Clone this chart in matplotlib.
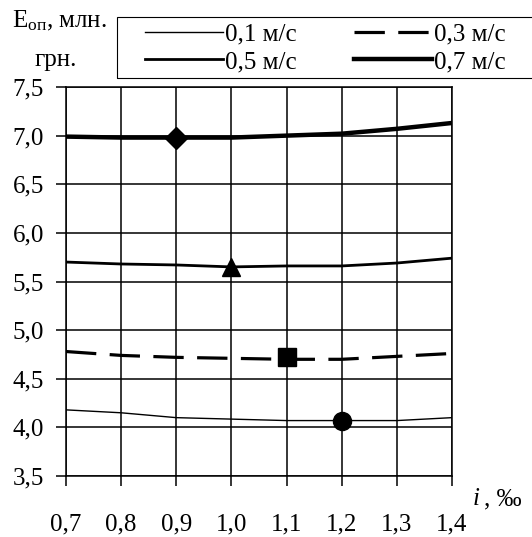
import matplotlib
matplotlib.use('Agg')
import matplotlib.pyplot as plt
from matplotlib.patches import Rectangle

plt.rcParams['font.family'] = ['Liberation Serif', 'DejaVu Serif']
plt.rcParams['mathtext.fontset'] = 'custom'
plt.rcParams['mathtext.rm'] = 'Liberation Serif'
plt.rcParams['mathtext.it'] = 'Liberation Serif:italic'

# ухил, ‰
slope = [0.7, 0.8, 0.9, 1.0, 1.1, 1.2, 1.3, 1.4]
slope_labels = ['0,7', '0,8', '0,9', '1,0', '1,1', '1,2', '1,3', '1,4']

# експлуатаційні витрати, млн. грн.
e_01 = [4.18, 4.15, 4.10, 4.085, 4.07, 4.07, 4.07, 4.10]
e_03 = [4.78, 4.74, 4.72, 4.71, 4.70, 4.70, 4.73, 4.76]
e_05 = [5.70, 5.68, 5.67, 5.65, 5.66, 5.66, 5.69, 5.74]
e_07 = [6.99, 6.98, 6.98, 6.98, 7.00, 7.02, 7.07, 7.13]

y_ticks = [3.5, 4.0, 4.5, 5.0, 5.5, 6.0, 6.5, 7.0, 7.5]
y_labels = ['3,5', '4,0', '4,5', '5,0', '5,5', '6,0', '6,5', '7,0', '7,5']

fig = plt.figure(figsize=(5.32, 5.37), dpi=100)
ax = fig.add_axes([66 / 532, 61 / 537, 386 / 532, 389 / 537])

h01, = ax.plot(slope, e_01, color='black', lw=1.0)
h03, = ax.plot(slope, e_03, color='black', lw=2.3, dashes=(9.5, 4.2))
h05, = ax.plot(slope, e_05, color='black', lw=2.0)
h07, = ax.plot(slope, e_07, color='black', lw=3.2)

# маркери
ax.plot(slope[5], e_01[5], 'o', color='black', ms=13, clip_on=False)
ax.plot(slope[4], e_03[4] + 0.02, 's', color='black', ms=13, clip_on=False)
ax.plot(slope[3], e_05[3], '^', color='black', ms=13, clip_on=False)
ax.plot(slope[2], e_07[2], 'D', color='black', ms=11, clip_on=False)

ax.set_xlim(0.7, 1.4)
ax.set_ylim(3.5, 7.5)
ax.set_xticks(slope)
ax.set_xticklabels(slope_labels)
ax.set_yticks(y_ticks)
ax.set_yticklabels(y_labels)
ax.grid(True, color='black', lw=1.1)
ax.set_axisbelow(True)
for s in ax.spines.values():
    s.set_linewidth(1.1)
ax.tick_params(direction='out', length=7, width=1.1, labelsize=18)
ax.tick_params(axis='x', pad=20)
ax.tick_params(axis='y', pad=9)

fig.text(12 / 532, 1 - 21 / 537, 'E$_{\\mathrm{оп}}$, млн.', fontsize=18,
         ha='left', va='center')
fig.text(35 / 532, 1 - 60 / 537, 'грн.', fontsize=18, ha='left', va='center')
fig.text(473 / 532, 1 - 499 / 537, 'i', fontsize=18, fontstyle='italic',
         ha='left', va='center')
fig.text(484 / 532, 1 - 499 / 537, ', ‰', fontsize=18, ha='left',
         va='center')

fig.patches.append(Rectangle((117 / 532, 1 - 78 / 537), 430 / 532, 61 / 537,
                             transform=fig.transFigure, fill=False,
                             edgecolor='black', lw=0.8))
fig.legend([h01, h05, h03, h07], ['0,1 м/с', '0,5 м/с', '0,3 м/с', '0,7 м/с'],
           ncol=2, loc='upper left', bbox_to_anchor=(145 / 532, 1 - 23 / 537),
           frameon=False, borderpad=0, borderaxespad=0, handlelength=3.1,
           handletextpad=0.1, columnspacing=2.3, labelspacing=0.2, fontsize=18)

fig.savefig('out.png', dpi=100)
